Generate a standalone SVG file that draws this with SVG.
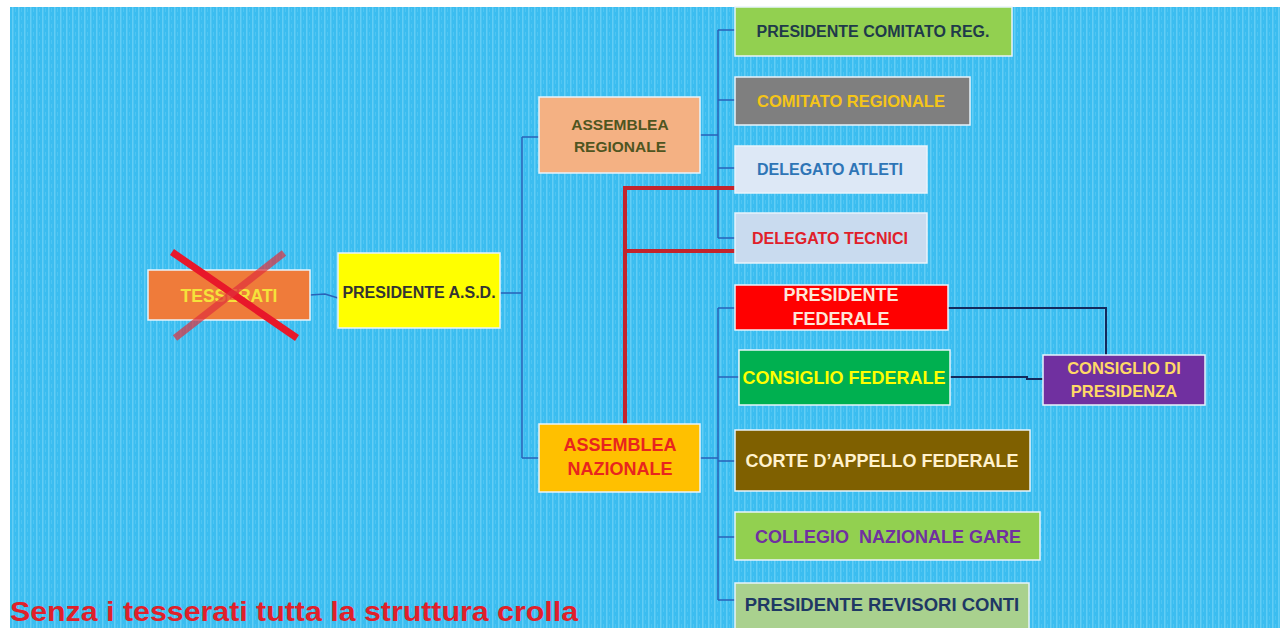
<svg xmlns="http://www.w3.org/2000/svg" width="1285" height="628" viewBox="0 0 1285 628">
<defs>
<pattern id="stripes" width="6" height="8" patternUnits="userSpaceOnUse">
<rect width="6" height="8" fill="#3bbdf0"/>
<rect x="0" width="1.5" height="8" fill="#62cdf5"/>
<rect x="3" y="0" width="1" height="4" fill="#4ec5f3"/>
</pattern>
<style>
.box{stroke:#e8f4fb;stroke-width:1.5}
.t{font-family:"Liberation Sans",Arial,sans-serif;font-weight:bold;text-anchor:middle}
.c{fill:none;stroke:#2a62b8;stroke-width:1.5}
.r{fill:none;stroke:#c3242c;stroke-width:4}
.d{fill:none;stroke:#142a5c;stroke-width:2}
</style>
</defs>
<rect width="1285" height="628" fill="#ffffff"/>
<rect x="10" y="7" width="1270" height="621" fill="url(#stripes)"/>

<g id="connectors">
<path class="c" d="M310,295 L325,294 L338,298"/>
<path class="c" d="M500,293 H522 M522,137 V458 M522,137 H539 M522,458 H539"/>
<path class="c" d="M700,135 H718 M718,30 V238 M718,30 H735 M718,100 H735 M718,168 H735 M718,238 H735"/>
<path class="c" d="M700,458 H718 M718,308 V600 M718,308 H735 M718,377 H739 M718,461 H735 M718,537 H735 M718,600 H735"/>
<path class="r" d="M625,424 V188 H735 M625,251 H735"/>
<path class="d" d="M948,308 H1106 V355"/>
<path class="d" d="M950,377 H1027 V379 H1043"/>
</g>

<g id="tesserati">
<rect class="box" x="148" y="270" width="162" height="50" fill="#ef7b3a"/>
<text class="t" x="229" y="302" font-size="17.5" fill="#f5e23a">TESSERATI</text>
<line x1="172" y1="252" x2="297" y2="338" stroke="#e8182a" stroke-width="7"/>
<line x1="284" y1="253" x2="175" y2="338" stroke="#e0303c" stroke-opacity="0.7" stroke-width="7"/>
</g>

<g id="presidente-asd">
<rect class="box" x="338" y="253" width="162" height="75" fill="#ffff00"/>
<text class="t" x="419" y="298" font-size="16" fill="#333333">PRESIDENTE A.S.D.</text>
</g>

<g id="assemblea-regionale">
<rect class="box" x="539" y="97" width="161" height="76" fill="#f4b183"/>
<text class="t" x="620" y="130" font-size="15.5" fill="#4f5521">ASSEMBLEA</text>
<text class="t" x="620" y="152" font-size="15.5" fill="#4f5521">REGIONALE</text>
</g>

<g id="assemblea-nazionale">
<rect class="box" x="539" y="424" width="161" height="68" fill="#ffc000"/>
<text class="t" x="620" y="451" font-size="18" fill="#e8251e">ASSEMBLEA</text>
<text class="t" x="620" y="475" font-size="18" fill="#e8251e">NAZIONALE</text>
</g>

<g id="presidente-comitato-reg">
<rect class="box" x="735" y="7" width="277" height="49" fill="#92d050"/>
<text class="t" x="873" y="37" font-size="16" fill="#1f3a4a">PRESIDENTE COMITATO REG.</text>
</g>

<g id="comitato-regionale">
<rect class="box" x="735" y="77" width="235" height="48" fill="#7f7f7f"/>
<text class="t" x="851" y="107" font-size="16.5" fill="#f5c518">COMITATO REGIONALE</text>
</g>

<g id="delegato-atleti">
<rect class="box" x="735" y="146" width="192" height="47" fill="#dde8f6"/>
<text class="t" x="830" y="175" font-size="16" fill="#2e75b6">DELEGATO ATLETI</text>
</g>

<g id="delegato-tecnici">
<rect class="box" x="735" y="213" width="192" height="50" fill="#c9dbef"/>
<text class="t" x="830" y="244" font-size="16" fill="#e0202a">DELEGATO TECNICI</text>
</g>

<g id="presidente-federale">
<rect class="box" x="735" y="285" width="213" height="45" fill="#ff0000"/>
<text class="t" x="841" y="301" font-size="18" fill="#fde6d8">PRESIDENTE</text>
<text class="t" x="841" y="325" font-size="18" fill="#fde6d8">FEDERALE</text>
</g>

<g id="consiglio-federale">
<rect class="box" x="739" y="350" width="211" height="55" fill="#00b050"/>
<text class="t" x="844" y="384" font-size="18" fill="#ffff00">CONSIGLIO FEDERALE</text>
</g>

<g id="corte-appello">
<rect class="box" x="735" y="430" width="295" height="61" fill="#7f6000"/>
<text class="t" x="882" y="467" font-size="18" fill="#fff2cc">CORTE D’APPELLO FEDERALE</text>
</g>

<g id="collegio-nazionale-gare">
<rect class="box" x="735" y="512" width="305" height="48" fill="#92d050"/>
<text class="t" x="888" y="543" font-size="18" fill="#7030a0" xml:space="preserve">COLLEGIO  NAZIONALE GARE</text>
</g>

<g id="presidente-revisori-conti">
<rect class="box" x="735" y="583" width="294" height="50" fill="#a9d18e"/>
<text class="t" x="882" y="611" font-size="18.5" fill="#1f3864">PRESIDENTE REVISORI CONTI</text>
</g>

<g id="consiglio-di-presidenza">
<rect class="box" x="1043" y="355" width="162" height="50" fill="#7030a0"/>
<text class="t" x="1124" y="374" font-size="16.5" fill="#ffd966">CONSIGLIO DI</text>
<text class="t" x="1124" y="397" font-size="16.5" fill="#ffd966">PRESIDENZA</text>
</g>

<text x="10" y="621" font-family="'Liberation Sans',Arial,sans-serif" font-weight="bold" font-size="28" fill="#e0202a" textLength="568" lengthAdjust="spacingAndGlyphs">Senza i tesserati tutta la struttura crolla</text>
</svg>
